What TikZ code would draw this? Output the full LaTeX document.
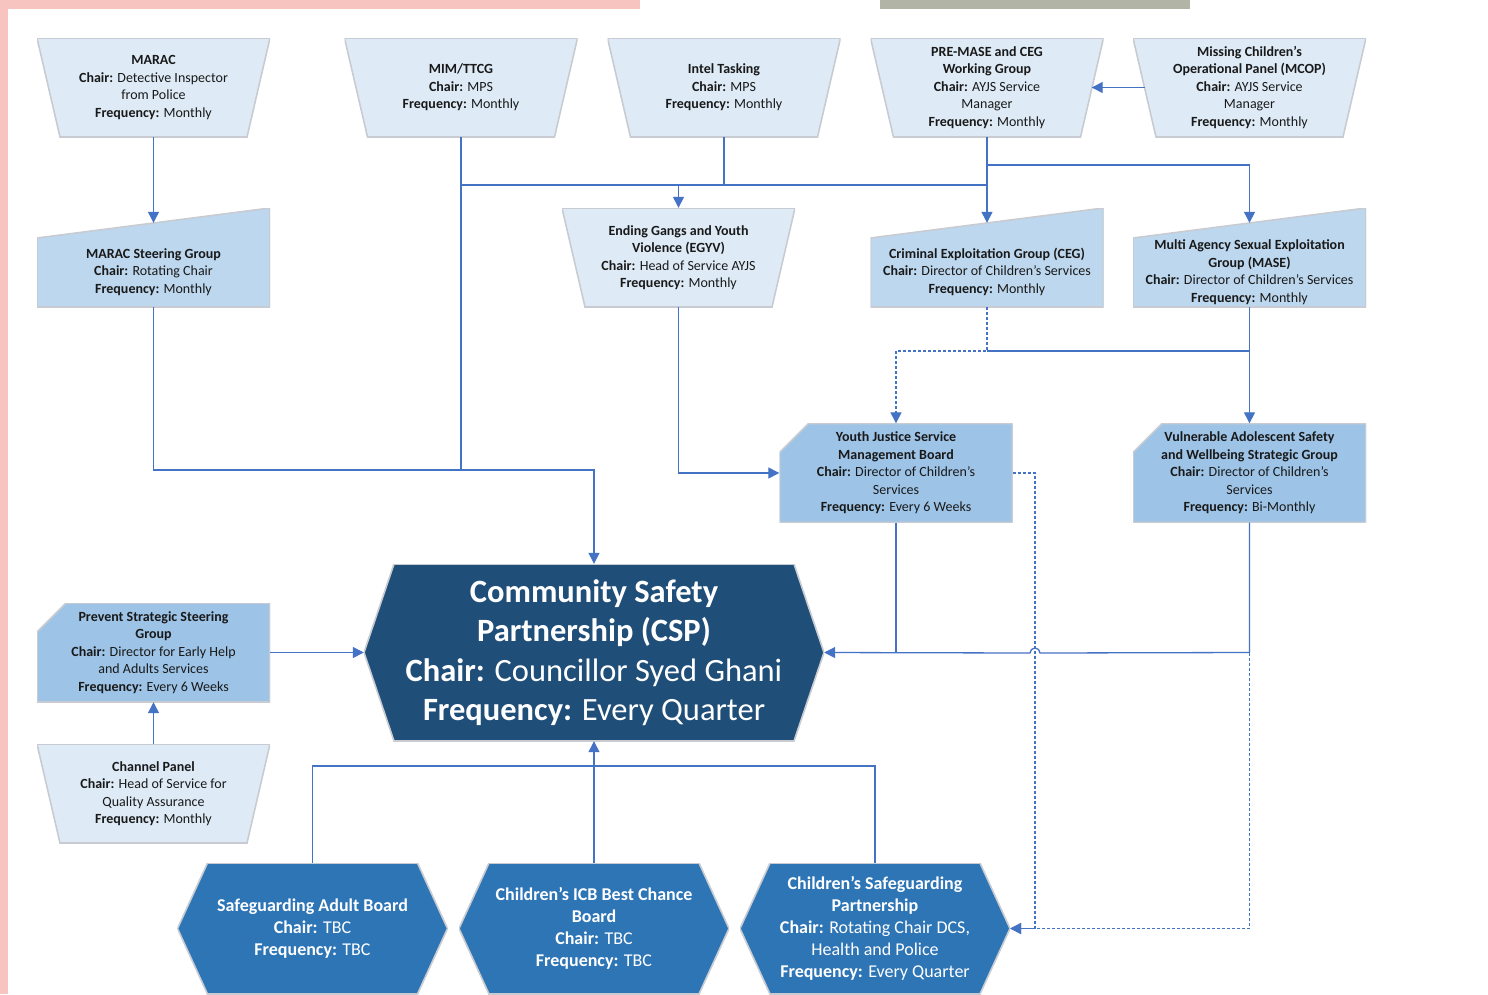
\documentclass[tikz,border=0pt]{standalone}
\usepackage{fontspec}
\setmainfont{Carlito}
\usetikzlibrary{arrows.meta,calc}
\definecolor{LinkBlue}{RGB}{68,114,196}
\definecolor{PaleBlue}{RGB}{222,235,247}
\definecolor{SoftBlue}{RGB}{189,215,238}
\definecolor{MidBlue}{RGB}{157,195,230}
\definecolor{NavyBand}{RGB}{31,78,121}
\definecolor{BoardBlue}{RGB}{46,117,182}
\definecolor{EdgeGrey}{RGB}{200,204,210}
\definecolor{PhotoPink}{RGB}{247,196,192}
\definecolor{PhotoGrey}{RGB}{178,180,165}
\newcommand{\dropstrut}{\rule{0pt}{39pt}}
\tikzset{
  link/.style={line width=1.3pt,draw=LinkBlue},
  flow/.style={link,-{Triangle[length=11pt,width=11pt]}},
  dotlink/.style={link,dash pattern=on 3pt off 2pt},
  dotflow/.style={flow,dash pattern=on 3pt off 2pt},
  smalltext/.style={inner sep=0pt,align=center,text=black!90,
    font=\fontsize{14}{17.5}\selectfont},
  trapbox/.style={smalltext,minimum width=233pt,minimum height=99pt,
    path picture={\filldraw[fill=PaleBlue,draw=EdgeGrey,line width=1.6pt]
      (path picture bounding box.north west) -- (path picture bounding box.north east)
      -- ([xshift=-23pt]path picture bounding box.south east)
      -- ([xshift=23pt]path picture bounding box.south west) -- cycle;}},
  inputbox/.style={smalltext,minimum width=233pt,minimum height=99pt,
    path picture={\filldraw[fill=SoftBlue,draw=EdgeGrey,line width=1.6pt]
      ([yshift=-30pt]path picture bounding box.north west)
      -- (path picture bounding box.north east)
      -- (path picture bounding box.south east)
      -- (path picture bounding box.south west) -- cycle;}},
  cardbox/.style={smalltext,minimum width=233pt,minimum height=99pt,
    path picture={\filldraw[fill=MidBlue,draw=EdgeGrey,line width=1.6pt]
      ([yshift=-29pt]path picture bounding box.north west)
      -- ([xshift=29pt]path picture bounding box.north west)
      -- (path picture bounding box.north east)
      -- (path picture bounding box.south east)
      -- (path picture bounding box.south west) -- cycle;}},
  hexbox/.style={inner sep=0pt,align=center,text=white,
    path picture={\filldraw[fill=#1,draw=EdgeGrey,line width=1.6pt]
      (path picture bounding box.west)
      -- ([xshift=30pt]path picture bounding box.north west)
      -- ([xshift=-30pt]path picture bounding box.north east)
      -- (path picture bounding box.east)
      -- ([xshift=-30pt]path picture bounding box.south east)
      -- ([xshift=30pt]path picture bounding box.south west) -- cycle;}},
  mainhex/.style={hexbox=NavyBand,minimum width=460pt,minimum height=177pt,
    font=\fontsize{32.5}{39.5}\selectfont},
  boardhex/.style={hexbox=BoardBlue,minimum width=270pt,minimum height=131pt,
    font=\fontsize{18}{22}\selectfont}
}

\begin{document}
\begin{tikzpicture}[x=1pt,y=-1pt]
  % page and photo edges
  \fill[white] (0,0) rectangle (1488,994);
  \fill[PhotoPink] (0,0) rectangle (640,9);
  \fill[PhotoPink] (0,0) rectangle (8,994);
  \fill[PhotoGrey] (880,0) rectangle (1190,9);
  \useasboundingbox (0,0) rectangle (1488,994);

  % top row
  \node[trapbox] (marac) at (153.5,87.5) {\textbf{MARAC}\\\textbf{Chair:} Detective Inspector\\from Police\\\textbf{Frequency:} Monthly};
  \node[trapbox] (mim) at (461,87.5) {\textbf{MIM/TTCG}\\\textbf{Chair:} MPS\\\textbf{Frequency:} Monthly};
  \node[trapbox] (intel) at (724,87.5) {\textbf{Intel Tasking}\\\textbf{Chair:} MPS\\\textbf{Frequency:} Monthly};
  \node[trapbox] (pre) at (987,87.5) {\textbf{PRE-MASE and CEG}\\\textbf{Working Group}\\\textbf{Chair:} AYJS Service\\Manager\\\textbf{Frequency:} Monthly};
  \node[trapbox] (mcop) at (1249.5,87.5) {\textbf{Missing Children’s}\\\textbf{Operational Panel (MCOP)}\\\textbf{Chair:} AYJS Service\\Manager\\\textbf{Frequency:} Monthly};

  % second row
  \node[inputbox] (steer) at (153.5,257.5) {\dropstrut\textbf{MARAC Steering Group}\\\textbf{Chair:} Rotating Chair\\\textbf{Frequency:} Monthly};
  \node[trapbox] (egyv) at (678.5,257.5) {\textbf{Ending Gangs and Youth}\\\textbf{Violence (EGYV)}\\\textbf{Chair:} Head of Service AYJS\\\textbf{Frequency:} Monthly};
  \node[inputbox] (ceg) at (987,257.5) {\dropstrut\textbf{Criminal Exploitation Group (CEG)}\\\textbf{Chair:} Director of Children’s Services\\\textbf{Frequency:} Monthly};
  \node[inputbox] (mase) at (1249.5,257.5) {\dropstrut\textbf{Multi Agency Sexual Exploitation}\\\textbf{Group (MASE)}\\\textbf{Chair:} Director of Children’s Services\\\textbf{Frequency:} Monthly};

  % third row
  \node[cardbox] (yjsmb) at (896,473) {\textbf{Youth Justice Service}\\\textbf{Management Board}\\\textbf{Chair:} Director of Children’s\\Services\\\textbf{Frequency:} Every 6 Weeks};
  \node[cardbox] (vasw) at (1249.5,473) {\textbf{Vulnerable Adolescent Safety}\\\textbf{and Wellbeing Strategic Group}\\\textbf{Chair:} Director of Children’s\\Services\\\textbf{Frequency:} Bi-Monthly};

  % left column
  \node[cardbox] (prevent) at (153.5,652.5) {\textbf{Prevent Strategic Steering}\\\textbf{Group}\\\textbf{Chair:} Director for Early Help\\and Adults Services\\\textbf{Frequency:} Every 6 Weeks};
  \node[trapbox] (channel) at (153.5,793.5) {\textbf{Channel Panel}\\\textbf{Chair:} Head of Service for\\Quality Assurance\\\textbf{Frequency:} Monthly};

  % partnership and boards
  \node[mainhex] (csp) at (594,652.5) {\textbf{Community Safety}\\\textbf{Partnership (CSP)}\\\textbf{Chair:} Councillor Syed Ghani\\\textbf{Frequency:} Every Quarter};
  \node[boardhex] (sab) at (312.5,928.5) {\textbf{Safeguarding Adult Board}\\\textbf{Chair:} TBC\\\textbf{Frequency:} TBC};
  \node[boardhex] (icb) at (594,928.5) {\textbf{Children’s ICB Best Chance}\\\textbf{Board}\\\textbf{Chair:} TBC\\\textbf{Frequency:} TBC};
  \node[boardhex] (cspart) at (875,928.5) {\textbf{Children’s Safeguarding}\\\textbf{Partnership}\\\textbf{Chair:} Rotating Chair DCS,\\Health and Police\\\textbf{Frequency:} Every Quarter};

  % bus rows
  \coordinate (toprun) at (0,185);
  \coordinate (mcoprun) at (0,165);
  \coordinate (midrun) at (0,351);
  \coordinate (leftrun) at (0,470);
  \coordinate (boardrun) at (0,766);
  \coordinate (hop) at (1035,653);

  \draw[flow] (marac.south) -- ([yshift=-15pt]steer.north);
  \draw[flow] (steer.south) -- (steer.south |- leftrun) -| (csp.north);
  \draw[link] (mim.south) -- (mim.south |- leftrun);
  \draw[link] (mim.south |- toprun) -- (pre.south |- toprun);
  \draw[link] (intel.south) -- (intel.south |- toprun);
  \draw[flow] (egyv.north |- toprun) -- (egyv.north);
  \draw[flow] (pre.south) -- ([yshift=-15pt]ceg.north);
  \draw[flow] (pre.south |- mcoprun) -| ([yshift=-15pt]mase.north);
  \draw[flow] ([xshift=12pt]mcop.west) -- ([xshift=-12pt]pre.east);

  \draw[flow] (egyv.south) |- (yjsmb.west);
  \draw[dotflow] (ceg.south) -- (ceg.south |- midrun) -| (yjsmb.north);
  \draw[link] (mase.south |- midrun) -- (ceg.south |- midrun);
  \draw[flow] (mase.south) -- (vasw.north);

  \draw[dotflow] (yjsmb.east) -| (hop) -- (hop |- cspart.east) -- (cspart.east);
  \draw[dotflow] (vasw.south) |- (cspart.east);
  \draw[link] (yjsmb.south) -- (yjsmb.south |- csp.east);
  \draw[flow] (vasw.south) -- (vasw.south |- csp.east) -- ([xshift=5pt]hop)
    arc[start angle=0,end angle=-180,radius=5] -- (csp.east);

  \draw[flow] (prevent.east) -- (csp.west);
  \draw[flow] (channel.north) -- (prevent.south);

  \draw[link] (sab.north) -- (sab.north |- boardrun) -| (cspart.north);
  \draw[flow] (icb.north) -- (csp.south);
\end{tikzpicture}
\end{document}
